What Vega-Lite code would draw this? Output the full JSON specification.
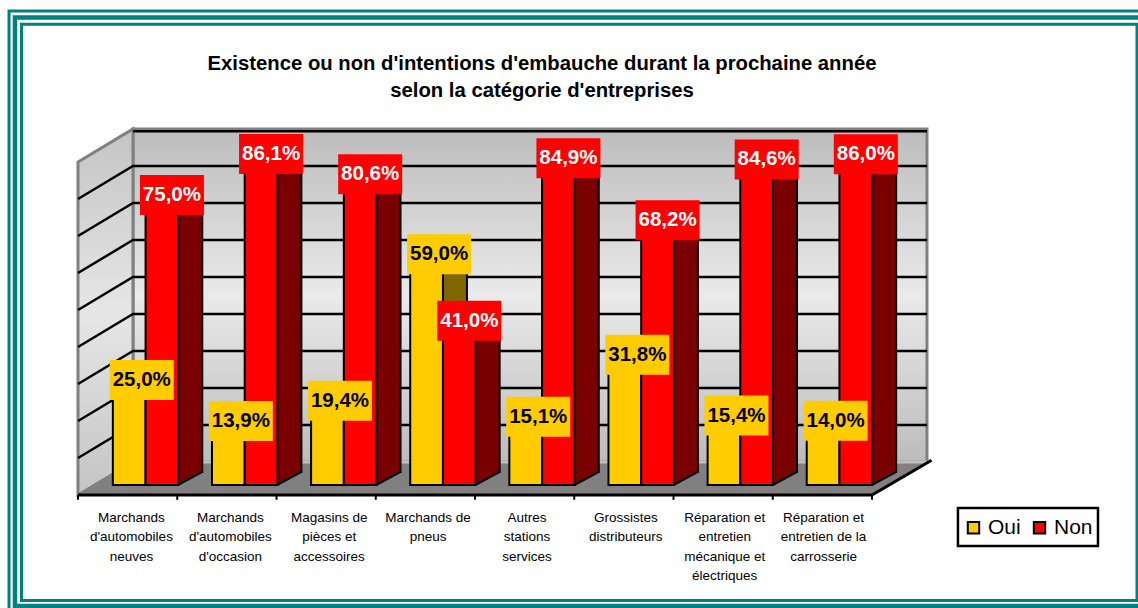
{"$schema":"https://vega.github.io/schema/vega-lite/v6.json","width":1138,"height":608,"padding":0,"autosize":{"type":"none"},"background":"white","config":{"view":{"stroke":null},"font":"Liberation Sans"},
"datasets":{
"barres":[
{"categorie":"Marchands|d'automobiles|neuves","serie":"Oui","valeur":25.0,"etiquette":"25,0%"},
{"categorie":"Marchands|d'automobiles|d'occasion","serie":"Oui","valeur":13.9,"etiquette":"13,9%"},
{"categorie":"Magasins de|pièces et|accessoires","serie":"Oui","valeur":19.4,"etiquette":"19,4%"},
{"categorie":"Marchands de|pneus","serie":"Oui","valeur":59.0,"etiquette":"59,0%"},
{"categorie":"Autres|stations|services","serie":"Oui","valeur":15.1,"etiquette":"15,1%"},
{"categorie":"Grossistes|distributeurs","serie":"Oui","valeur":31.8,"etiquette":"31,8%"},
{"categorie":"Réparation et|entretien|mécanique et|électriques","serie":"Oui","valeur":15.4,"etiquette":"15,4%"},
{"categorie":"Réparation et|entretien de la|carrosserie","serie":"Oui","valeur":14.0,"etiquette":"14,0%"},
{"categorie":"Marchands|d'automobiles|neuves","serie":"Non","valeur":75.0,"etiquette":"75,0%"},
{"categorie":"Marchands|d'automobiles|d'occasion","serie":"Non","valeur":86.1,"etiquette":"86,1%"},
{"categorie":"Magasins de|pièces et|accessoires","serie":"Non","valeur":80.6,"etiquette":"80,6%"},
{"categorie":"Marchands de|pneus","serie":"Non","valeur":41.0,"etiquette":"41,0%"},
{"categorie":"Autres|stations|services","serie":"Non","valeur":84.9,"etiquette":"84,9%"},
{"categorie":"Grossistes|distributeurs","serie":"Non","valeur":68.2,"etiquette":"68,2%"},
{"categorie":"Réparation et|entretien|mécanique et|électriques","serie":"Non","valeur":84.6,"etiquette":"84,6%"},
{"categorie":"Réparation et|entretien de la|carrosserie","serie":"Non","valeur":86.0,"etiquette":"86,0%"}],
"cadres":[{"a":-0.569,"b":10.67,"h":127.2,"l":-28.5,"k":"A"},{"a":-0.635,"b":10.75,"h":129.05,"l":-30,"k":"B"},{"a":-0.695,"b":10.8,"h":130.8,"l":-31.6,"k":"C"}],
"legende":[{"a":8.866,"b":10.277,"h":-3.51,"l":-13.78}],
"mur":[{"a":0.554,"b":8.554,"h":98.92,"l":8.92}],
"gauche":[{"a":0,"h":90,"l":0},{"a":0.554,"h":98.92,"l":8.92}],
"sol":[{"a":0,"h":0,"l":0},{"a":0.554,"h":8.92,"l":0},{"a":8,"h":8.92,"l":0},{"a":8.554,"h":8.92,"l":8.92}],
"grille":[
{"n":10,"a":0,"h":10},{"n":10,"a":0.554,"h":18.92},{"n":10,"a":8.554,"h":18.92},
{"n":20,"a":0,"h":20},{"n":20,"a":0.554,"h":28.92},{"n":20,"a":8.554,"h":28.92},
{"n":30,"a":0,"h":30},{"n":30,"a":0.554,"h":38.92},{"n":30,"a":8.554,"h":38.92},
{"n":40,"a":0,"h":40},{"n":40,"a":0.554,"h":48.92},{"n":40,"a":8.554,"h":48.92},
{"n":50,"a":0,"h":50},{"n":50,"a":0.554,"h":58.92},{"n":50,"a":8.554,"h":58.92},
{"n":60,"a":0,"h":60},{"n":60,"a":0.554,"h":68.92},{"n":60,"a":8.554,"h":68.92},
{"n":70,"a":0,"h":70},{"n":70,"a":0.554,"h":78.92},{"n":70,"a":8.554,"h":78.92},
{"n":80,"a":0,"h":80},{"n":80,"a":0.554,"h":88.92},{"n":80,"a":8.554,"h":88.92},
{"n":90,"a":0.554,"h":98.3},{"n":90,"a":8.554,"h":98.3}],
"axe":[{"a":0,"h":0},{"a":8,"h":0},{"a":8.6,"h":9.4}],
"fond":[{"a":0.554,"h":8.92},{"a":8.554,"h":8.92}],
"ticks":[{"a":0},{"a":1},{"a":2},{"a":3},{"a":4},{"a":5},{"a":6},{"a":7},{"a":8}],
"titre":[{"a":4.675,"h":119.2,"t":"Existence ou non d'intentions d'embauche durant la prochaine année|selon la catégorie d'entreprises"}]
},
"layer":[
{"layer":[
{"data":{"name":"cadres"},"mark":{"type":"rect","fill":"transparent","stroke":"#008080","strokeWidth":3},"encoding":{"x":{"field":"a","type":"quantitative","axis":null,"scale":{"domain":[0,8],"range":[78,872],"nice":false,"zero":false}},"x2":{"field":"b"},"y":{"field":"h","type":"quantitative","axis":null,"scale":{"domain":[0,90],"range":[495,162],"nice":false,"zero":false}},"y2":{"field":"l"},"strokeWidth":{"condition":{"test":"datum.k==='B'","value":4.5},"value":3}}},
{"data":{"name":"legende"},"mark":{"type":"rect","fill":"white","stroke":"black","strokeWidth":2.5},"encoding":{"x":{"field":"a","type":"quantitative"},"x2":{"field":"b"},"y":{"field":"h","type":"quantitative"},"y2":{"field":"l"}}},
{"data":{"name":"sol"},"mark":{"type":"area","color":"#808080","opacity":1},"encoding":{"x":{"field":"a","type":"quantitative"},"y":{"field":"h","type":"quantitative"},"y2":{"field":"l"}}},
{"data":{"name":"mur"},"mark":{"type":"rect","fill":{"gradient":"linear","x1":0,"y1":0,"x2":0,"y2":1,"stops":[{"offset":0,"color":"#bcbcbc"},{"offset":0.5,"color":"#eaeaea"},{"offset":1,"color":"#bcbcbc"}]},"stroke":"#808080","strokeWidth":3},"encoding":{"x":{"field":"a","type":"quantitative"},"x2":{"field":"b"},"y":{"field":"h","type":"quantitative"},"y2":{"field":"l"}}},
{"data":{"name":"gauche"},"mark":{"type":"area","opacity":1,"fill":{"gradient":"linear","x1":0,"y1":0,"x2":0,"y2":1,"stops":[{"offset":0,"color":"#c4c4c4"},{"offset":0.5,"color":"#e6e6e6"},{"offset":1,"color":"#c4c4c4"}]},"stroke":"#808080","strokeWidth":3},"encoding":{"x":{"field":"a","type":"quantitative"},"y":{"field":"h","type":"quantitative"},"y2":{"field":"l"}}},
{"data":{"name":"fond"},"mark":{"type":"line","color":"#c0c0c0","strokeWidth":3},"encoding":{"x":{"field":"a","type":"quantitative"},"y":{"field":"h","type":"quantitative"}}},
{"data":{"name":"grille"},"mark":{"type":"line","color":"black","strokeWidth":2.5},"encoding":{"x":{"field":"a","type":"quantitative"},"y":{"field":"h","type":"quantitative"},"detail":{"field":"n"}}},
{"data":{"name":"axe"},"mark":{"type":"line","color":"black","strokeWidth":3},"encoding":{"x":{"field":"a","type":"quantitative"},"y":{"field":"h","type":"quantitative"}}},
{"data":{"name":"ticks"},"mark":{"type":"rule","color":"black","strokeWidth":2},"encoding":{"x":{"field":"a","type":"quantitative"},"y":{"datum":0},"y2":{"datum":-1.3}}},
{"data":{"name":"titre"},"mark":{"type":"text","lineBreak":"|","lineHeight":27,"fontSize":20.3,"fontWeight":"bold","baseline":"top","align":"center","color":"black"},"encoding":{"x":{"field":"a","type":"quantitative"},"y":{"field":"h","type":"quantitative"},"text":{"field":"t"}}}
]},
{"data":{"name":"barres"},"transform":[{"filter":"datum.serie==='Oui'"}],"mark":{"type":"bar","fill":"#806600","stroke":"black","strokeWidth":2},"encoding":{"x":{"field":"categorie","type":"nominal","axis":null,"sort":null,"scale":{"range":[120,913],"paddingInner":0.34,"paddingOuter":0.17}},"xOffset":{"field":"serie","sort":["Oui","Non"],"scale":{"domain":["Oui","Non"],"paddingInner":0,"paddingOuter":0}},"y":{"field":"valeur","type":"quantitative","axis":null,"scale":{"domain":[0,90],"range":[472,139],"nice":false}}}},
{"data":{"name":"barres"},"transform":[{"filter":"datum.serie==='Oui'"}],"mark":{"type":"bar","stroke":"black","strokeWidth":2},"encoding":{"x":{"field":"categorie","type":"nominal","axis":null,"sort":null,"scale":{"range":[96,889],"paddingInner":0.34,"paddingOuter":0.17}},"xOffset":{"field":"serie","sort":["Oui","Non"],"scale":{"domain":["Oui","Non"],"paddingInner":0,"paddingOuter":0}},"y":{"field":"valeur","type":"quantitative","axis":null,"scale":{"domain":[0,90],"range":[485,152],"nice":false}},"color":{"field":"serie","type":"nominal","scale":{"domain":["Oui","Non"],"range":["#ffcc00","#ff0000"]},"legend":{"orient":"none","legendX":958,"legendY":512,"direction":"horizontal","title":null,"symbolType":"square","symbolSize":130,"symbolStrokeColor":"black","symbolStrokeWidth":2,"labelFontSize":21,"labelColor":"black","padding":5,"columnPadding":8,"labelOffset":4}}}},
{"layer":[
{"data":{"name":"barres"},"transform":[{"filter":"datum.serie==='Non'"}],"mark":{"type":"bar","fill":"#7a0000","stroke":"black","strokeWidth":2},"encoding":{"x":{"field":"categorie","type":"nominal","axis":null,"sort":null,"scale":{"range":[120,913],"paddingInner":0.34,"paddingOuter":0.17}},"xOffset":{"field":"serie","sort":["Oui","Non"],"scale":{"type":"band","domain":["Oui","Non"],"paddingInner":0,"paddingOuter":0}},"y":{"field":"valeur","type":"quantitative","axis":null,"scale":{"domain":[0,90],"range":[472,139],"nice":false}}}},
{"data":{"name":"barres"},"transform":[{"filter":"datum.serie==='Non'"}],"mark":{"type":"point","shape":"M-9,14L15,0L15,-2L-9,-2Z","size":4,"filled":true,"fill":"#7a0000","stroke":null,"opacity":1},"encoding":{"x":{"field":"categorie","type":"nominal","sort":null},"xOffset":{"field":"serie","sort":["Oui","Non"]},"y":{"datum":0}}},
{"data":{"name":"barres"},"transform":[{"filter":"datum.serie==='Non'"}],"mark":{"type":"point","shape":"M-8,13L16,0","size":4,"filled":false,"stroke":"black","strokeWidth":2,"opacity":1},"encoding":{"x":{"field":"categorie","type":"nominal","sort":null},"xOffset":{"field":"serie","sort":["Oui","Non"]},"y":{"datum":0}}}
]},
{"data":{"name":"barres"},"transform":[{"filter":"datum.serie==='Non'"}],"mark":{"type":"bar","fill":"#ff0000","stroke":"black","strokeWidth":2},"encoding":{"x":{"field":"categorie","type":"nominal","axis":null,"sort":null,"scale":{"range":[96,889],"paddingInner":0.34,"paddingOuter":0.17}},"xOffset":{"field":"serie","sort":["Oui","Non"],"scale":{"domain":["Oui","Non"],"paddingInner":0,"paddingOuter":0}},"y":{"field":"valeur","type":"quantitative","axis":null,"scale":{"domain":[0,90],"range":[485,152],"nice":false}}}},
{"layer":[
{"data":{"name":"barres"},"transform":[{"filter":"datum.serie==='Oui'"}],"mark":{"type":"point","shape":"M-19.5,-32.5H44.5V7.5H-19.5Z","size":4,"filled":true,"fill":"#ffcc00","stroke":null,"opacity":1},"encoding":{"x":{"field":"categorie","type":"nominal","axis":null,"sort":null,"scale":{"type":"band","range":[96,889],"paddingInner":0.34,"paddingOuter":0.17}},"xOffset":{"field":"serie","sort":["Oui","Non"],"scale":{"type":"band","domain":["Oui","Non"],"paddingInner":0,"paddingOuter":0}},"y":{"field":"valeur","type":"quantitative","axis":null,"scale":{"domain":[0,90],"range":[485,152],"nice":false}}}},
{"data":{"name":"barres"},"transform":[{"filter":"datum.serie==='Non'"}],"mark":{"type":"point","shape":"M-22,-32.5H42V7.5H-22Z","size":4,"filled":true,"fill":"#ff0000","stroke":null,"opacity":1},"encoding":{"x":{"field":"categorie","type":"nominal","sort":null},"xOffset":{"field":"serie","sort":["Oui","Non"]},"y":{"field":"valeur","type":"quantitative"}}},
{"data":{"name":"barres"},"transform":[{"filter":"datum.serie==='Oui'"}],"mark":{"type":"text","dx":12.5,"dy":-12.5,"fontSize":20.5,"fontWeight":"bold","color":"black"},"encoding":{"x":{"field":"categorie","type":"nominal","sort":null},"xOffset":{"field":"serie","sort":["Oui","Non"]},"y":{"field":"valeur","type":"quantitative"},"text":{"field":"etiquette"}}},
{"data":{"name":"barres"},"transform":[{"filter":"datum.serie==='Non'"}],"mark":{"type":"text","dx":10,"dy":-12.5,"fontSize":20.5,"fontWeight":"bold","color":"white"},"encoding":{"x":{"field":"categorie","type":"nominal","sort":null},"xOffset":{"field":"serie","sort":["Oui","Non"]},"y":{"field":"valeur","type":"quantitative"},"text":{"field":"etiquette"}}}
]},
{"data":{"name":"barres"},"transform":[{"filter":"datum.serie==='Oui'"}],"mark":{"type":"text","lineBreak":"|","lineHeight":19.3,"fontSize":13.5,"baseline":"top","align":"center","color":"black"},"encoding":{"x":{"field":"categorie","type":"nominal","axis":null,"sort":null,"scale":{"range":[82,873]}},"y":{"datum":-4.3,"type":"quantitative","axis":null,"scale":{"domain":[0,90],"range":[495,162],"nice":false,"zero":false}},"text":{"field":"categorie"}}}
],
"resolve":{"scale":{"x":"independent","y":"independent","xOffset":"independent","color":"independent"},"axis":{"x":"independent","y":"independent"}}}
